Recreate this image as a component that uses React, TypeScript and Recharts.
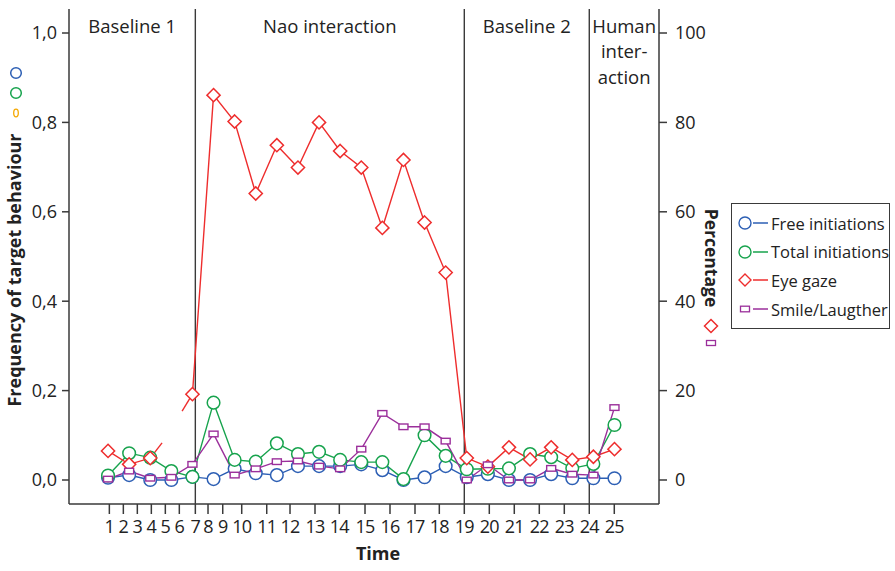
import React from 'react';
import { ComposedChart, Line, XAxis, YAxis, ReferenceLine, ReferenceArea, Legend } from 'recharts';

const FONT = '"Open Sans", "Noto Sans", sans-serif';
const AXIS = '#3a3a3a';
const BLUE = '#2d5fb4';
const GREEN = '#17a34d';
const RED = '#ee2d2d';
const PURPLE = '#9b2f9b';
const ORANGE = '#f5a800';

// Sessions (time index of each observation)
const sessions = [1, 2, 3, 4, 5, 6, 7, 8, 9, 10, 11, 12, 13, 14, 15, 16, 17, 18, 19, 20, 21, 22, 23, 24, 25];

// Time axis: labels and where each label sits on the session scale
const timeTickLabels = ['1', '2', '3', '4', '5', '6', '7', '8', '9', '10', '11', '12', '13', '14', '15', '16', '17', '18', '19', '20', '21', '22', '23', '24', '25'];
const timeTickValues = [1.062, 1.725, 2.388, 3.052, 3.715, 4.378, 5.137, 5.738, 6.435, 7.335, 8.52, 9.624, 10.808, 11.96, 13.178, 14.362, 15.547, 16.699, 17.883, 19.068, 20.252, 21.437, 22.622, 23.806, 24.991];

// Frequency of target behaviour (left axis)
const freeInitiations = [0.005, 0.011, 0, 0, 0.007, 0.002, 0.025, 0.015, 0.011, 0.031, 0.031, 0.031, 0.035, 0.022, 0, 0.006, 0.031, 0.006, 0.013, 0, 0, 0.013, 0.004, 0.004, 0.004];
const totalInitiations = [0.01, 0.06, 0.05, 0.02, 0.007, 0.173, 0.045, 0.041, 0.082, 0.058, 0.063, 0.045, 0.04, 0.04, 0.002, 0.1, 0.054, 0.024, 0.025, 0.026, 0.058, 0.051, 0.026, 0.036, 0.123];

// Percentage (right axis)
const eyeGaze = [6.5, 3.5, 4.9, null, 19.2, 86.1, 80.2, 64.1, 74.9, 69.9, 80.0, 73.6, 69.9, 56.4, 71.6, 57.6, 46.4, 4.9, 3.0, 7.3, 4.6, 7.3, 4.5, 5.2, 6.9];
const smileLaughter = [0.2, 2.0, 0.4, 0.6, 3.5, 10.3, 1.1, 2.5, 4.1, 4.25, 3.1, 2.5, 6.9, 14.9, 11.9, 11.9, 8.7, 0, 3.4, 0, 0, 2.6, 1.3, 1.1, 16.2];

// Broken eye-gaze line pieces around the missing session 4
const eyeGazeStubA = [{ x: 3, v: 4.9 }, { x: 3.56, v: 8.3 }];
const eyeGazeStubB = [{ x: 4.51, v: 15.4 }, { x: 5, v: 19.2 }];

// Phases
const phaseNames = [['Baseline 1'], ['Nao interaction'], ['Baseline 2'], ['Human', 'inter-', 'action']];
const phaseDividers = [5.137, 17.883, 23.806];

const seriesNames = ['Free initiations', 'Total initiations', 'Eye gaze', 'Smile/Laugther'];
const freqTicks = [0, 0.2, 0.4, 0.6, 0.8, 1.0];
const pctTicks = [0, 20, 40, 60, 80, 100];

const X_MIN = -0.85;
const X_MAX = 27.11;
const FREQ_DOMAIN = [-0.0537, 1.0537];
const PCT_DOMAIN = [-5.37, 105.37];

const rows = sessions.map((s, i) => ({
  x: s,
  free: freeInitiations[i],
  total: totalInitiations[i],
  gaze: eyeGaze[i],
  smile: smileLaughter[i],
}));

const phaseRanges = phaseNames.map((_, i) => [i === 0 ? X_MIN : phaseDividers[i - 1], i === phaseNames.length - 1 ? X_MAX : phaseDividers[i]]);

const ok = (p: any) => p && p.cx != null && p.cy != null && p.value != null && !Number.isNaN(p.cx) && !Number.isNaN(p.cy);

const circleDot = (color: string) => (p: any) =>
  ok(p) ? <circle key={p.key ?? p.index} cx={p.cx} cy={p.cy} r={6.3} fill="#fff" stroke={color} strokeWidth={1.5} /> : <g key={p?.key ?? p?.index} />;

const diamondDot = (p: any) =>
  ok(p) ? (
    <path key={p.key ?? p.index} d={`M${p.cx},${p.cy - 6.6}L${p.cx + 6.6},${p.cy}L${p.cx},${p.cy + 6.6}L${p.cx - 6.6},${p.cy}Z`} fill="#fff" stroke={RED} strokeWidth={1.5} />
  ) : <g key={p?.key ?? p?.index} />;

const squareDot = (p: any) =>
  ok(p) ? <rect key={p.key ?? p.index} x={p.cx - 4.5} y={p.cy - 2.8} width={9} height={5.6} fill="#fff" stroke={PURPLE} strokeWidth={1.4} /> : <g key={p?.key ?? p?.index} />;

const legendMarkers = [
  (x: number, y: number) => <circle cx={x} cy={y} r={6} fill="#fff" stroke={BLUE} strokeWidth={1.4} />,
  (x: number, y: number) => <circle cx={x} cy={y} r={6} fill="#fff" stroke={GREEN} strokeWidth={1.4} />,
  (x: number, y: number) => <path d={`M${x},${y - 6}L${x + 6},${y}L${x},${y + 6}L${x - 6},${y}Z`} fill="#fff" stroke={RED} strokeWidth={1.4} />,
  (x: number, y: number) => <rect x={x - 4.5} y={y - 2.8} width={9} height={5.6} fill="#fff" stroke={PURPLE} strokeWidth={1.3} />,
];
const legendColors = [BLUE, GREEN, RED, PURPLE];

const renderLegend = () => (
  <div style={{ width: 159, height: 126, boxSizing: 'border-box', border: `1.3px solid ${AXIS}`, background: '#fff', paddingTop: 5 }}>
    {seriesNames.map((name, i) => (
      <div key={name} style={{ height: 28.6, display: 'flex', alignItems: 'center' }}>
        <svg width={39} height={20} style={{ flex: 'none' }}>
          {legendMarkers[i](13, 10)}
          <line x1={21} x2={36} y1={10} y2={10} stroke={legendColors[i]} strokeWidth={1.5} />
        </svg>
        <span style={{ fontFamily: FONT, fontSize: 16.5, color: '#222', whiteSpace: 'nowrap' }}>{name}</span>
      </div>
    ))}
  </div>
);

const PhaseLabel = (props: any) => {
  const { viewBox, lines } = props;
  if (!viewBox) return null;
  const cx = viewBox.x + viewBox.width / 2;
  return (
    <text x={cx} y={viewBox.y + 23.5} textAnchor="middle" fontFamily={FONT} fontSize={18.5} fill="#222">
      {lines.map((l: string, i: number) => (
        <tspan key={i} x={cx} dy={i === 0 ? 0 : 25.5}>{l}</tspan>
      ))}
    </text>
  );
};

const fmtFreq = (v: number) => v.toFixed(1).replace('.', ',');
const fmtTime = (v: number) => timeTickLabels[timeTickValues.indexOf(v)] ?? '';

export default function App() {
  return (
    <div style={{ position: 'absolute', left: 0, top: 0, width: 895, height: 571, background: '#fff' }}>
      <ComposedChart width={895} height={571} data={rows} margin={{ top: 9, right: 176, bottom: 17, left: 19 }}>
        <XAxis
          dataKey="x"
          type="number"
          domain={[X_MIN, X_MAX]}
          ticks={timeTickValues}
          interval={0}
          tickFormatter={fmtTime}
          height={50}
          stroke={AXIS}
          strokeWidth={1.5}
          tickSize={10}
          tickMargin={6}
          tick={{ fill: '#222', fontSize: 18, fontFamily: FONT, letterSpacing: -0.8 }}
          allowDataOverflow
          label={{
            content: (p: any) =>
              p.viewBox ? (
                <text x={p.viewBox.x + p.viewBox.width / 2 + 14} y={560} textAnchor="middle" fontFamily={FONT} fontWeight="bold" fontSize={18} fill="#222">Time</text>
              ) : null,
          }}
        />
        <XAxis xAxisId="top" orientation="top" type="number" dataKey="x" domain={[X_MIN, X_MAX]} height={0} tick={false} tickLine={false} stroke={AXIS} strokeWidth={1.5} allowDataOverflow />
        <YAxis
          type="number"
          domain={FREQ_DOMAIN}
          ticks={freqTicks}
          interval={0}
          tickFormatter={fmtFreq}
          width={50}
          stroke={AXIS}
          strokeWidth={1.5}
          tickSize={7}
          tickMargin={5}
          tick={{ fill: '#222', fontSize: 18, fontFamily: FONT }}
          allowDataOverflow
          label={{
            content: () => (
              <text x={21} y={270} transform="rotate(-90 21 270)" textAnchor="middle" fontFamily={FONT} fontWeight="bold" fontSize={18} fill="#222">Frequency of target behaviour</text>
            ),
          }}
        />
        <YAxis
          yAxisId="right"
          orientation="right"
          type="number"
          domain={PCT_DOMAIN}
          ticks={pctTicks}
          interval={0}
          width={60}
          stroke={AXIS}
          strokeWidth={1.5}
          tickSize={8}
          tickMargin={8}
          tick={{ fill: '#222', fontSize: 18, fontFamily: FONT }}
          allowDataOverflow
          label={{
            content: () => (
              <text x={705} y={258} transform="rotate(90 705 258)" textAnchor="middle" fontFamily={FONT} fontWeight="bold" fontSize={17.5} fill="#222">Percentage</text>
            ),
          }}
        />

        {phaseRanges.map((r, i) => (
          <ReferenceArea key={`pa${i}`} x1={r[0]} x2={r[1]} fill="none" fillOpacity={0} stroke="none" ifOverflow="visible"
            label={(p: any) => <PhaseLabel {...p} lines={phaseNames[i]} />} />
        ))}
        {phaseDividers.map((d, i) => (
          <ReferenceLine key={`pd${i}`} x={d} stroke={AXIS} strokeWidth={1.4} />
        ))}

        <Line dataKey="free" name={seriesNames[0]} type="linear" stroke={BLUE} strokeWidth={1.4} dot={circleDot(BLUE)} activeDot={false} isAnimationActive={false} />
        <Line dataKey="total" name={seriesNames[1]} type="linear" stroke={GREEN} strokeWidth={1.4} dot={circleDot(GREEN)} activeDot={false} isAnimationActive={false} />
        <Line yAxisId="right" data={eyeGazeStubA} dataKey="v" stroke={RED} strokeWidth={1.4} dot={false} isAnimationActive={false} legendType="none" />
        <Line yAxisId="right" data={eyeGazeStubB} dataKey="v" stroke={RED} strokeWidth={1.4} dot={false} isAnimationActive={false} legendType="none" />
        <Line yAxisId="right" dataKey="gaze" name={seriesNames[2]} type="linear" stroke={RED} strokeWidth={1.4} dot={diamondDot} activeDot={false} connectNulls={false} isAnimationActive={false} />
        <Line yAxisId="right" dataKey="smile" name={seriesNames[3]} type="linear" stroke={PURPLE} strokeWidth={1.4} dot={squareDot} activeDot={false} isAnimationActive={false} />

        <Legend layout="horizontal" verticalAlign="middle" align="center" content={renderLegend}
          wrapperStyle={{ position: 'absolute', left: 731, top: 203, width: 159, height: 126 }} />
      </ComposedChart>
      <svg width={895} height={571} style={{ position: 'absolute', left: 0, top: 0, pointerEvents: 'none' }}>
        <circle cx={16} cy={73} r={5.3} fill="none" stroke={BLUE} strokeWidth={1.5} />
        <circle cx={16} cy={93} r={5.3} fill="none" stroke={GREEN} strokeWidth={1.5} />
        <ellipse cx={16} cy={113} rx={2.3} ry={3.8} fill="none" stroke={ORANGE} strokeWidth={1.3} />
        <path d="M711,319.5L717.5,326L711,332.5L704.5,326Z" fill="none" stroke={RED} strokeWidth={1.5} />
        <rect x={706.5} y={340.5} width={9} height={5} fill="none" stroke={PURPLE} strokeWidth={1.3} />
      </svg>
    </div>
  );
}
